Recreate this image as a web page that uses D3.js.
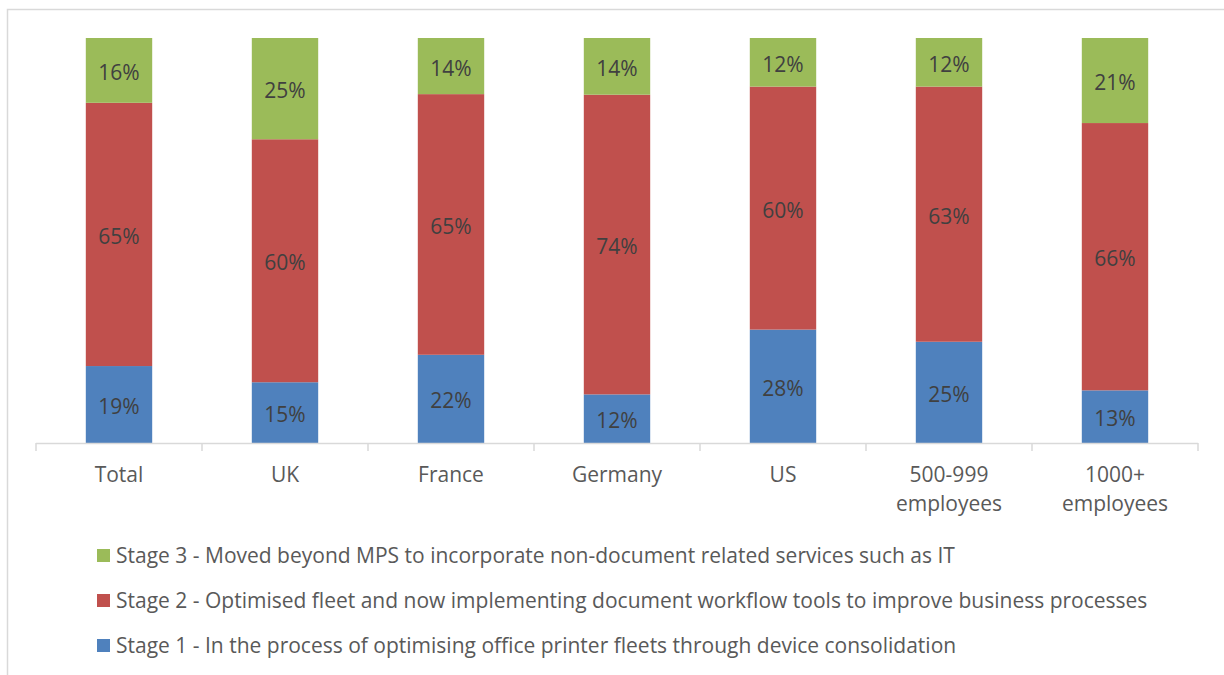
<!DOCTYPE html>
<html>
<head>
<meta charset="utf-8">
<script src="https://cdn.jsdelivr.net/npm/d3@7"></script>
<style>
  body { margin: 0; background: #fff; }
  svg { display: block; font-family: "Open Sans", Lato, sans-serif; }
</style>
</head>
<body>
<svg id="chart" width="1224" height="675"></svg>
<script>
// categories and series (percent of respondents)
var categories = ["Total", "UK", "France", "Germany", "US", "500-999\nemployees", "1000+\nemployees"];
var stage1 = [19, 15, 22, 12, 28, 25, 13];
var stage2 = [65, 60, 65, 74, 60, 63, 66];
var stage3 = [16, 25, 14, 14, 12, 12, 21];
var seriesNames = [
  "Stage 1 - In the process of optimising office printer fleets through device consolidation",
  "Stage 2 - Optimised fleet and now implementing document workflow tools to improve business processes",
  "Stage 3 - Moved beyond MPS to incorporate non-document related services such as IT"
];
var colors = ["#4F81BD", "#C0504D", "#9BBB59"];
var fontSize = "21px";

var W = 1224, H = 675;
var margin = {top: 38, right: 26, bottom: 232, left: 36};
var width = W - margin.left - margin.right,
    height = H - margin.top - margin.bottom;

var svg = d3.select("#chart");

// outer chart frame
svg.append("rect")
  .attr("x", 7.5).attr("y", 9.5)
  .attr("width", W).attr("height", H)
  .attr("fill", "none")
  .attr("stroke", "#d9d9d9")
  .attr("stroke-width", 1.5);

var chart = svg.append("g")
  .attr("transform", "translate(" + margin.left + "," + margin.top + ")");

var rows = categories.map(function(c, i){
  return {name: c, s1: stage1[i], s2: stage2[i], s3: stage3[i]};
});
var keys = ["s1", "s2", "s3"];
var stacked = d3.stack().keys(keys).offset(d3.stackOffsetExpand)(rows);

var x = d3.scaleBand()
  .domain(categories)
  .range([0, width])
  .paddingInner(0.6)
  .paddingOuter(0.3);
var y = d3.scaleLinear().domain([0, 1]).range([height, 0]);

var layers = chart.selectAll(".layer")
  .data(stacked)
  .enter().append("g")
  .attr("class", "layer")
  .attr("fill", function(d, i){ return colors[i]; });

layers.selectAll("rect")
  .data(function(d){ return d; })
  .enter().append("rect")
  .attr("x", function(d){ return x(d.data.name); })
  .attr("y", function(d){ return y(d[1]); })
  .attr("height", function(d){ return y(d[0]) - y(d[1]); })
  .attr("width", x.bandwidth());

layers.each(function(layer){
  var key = layer.key;
  d3.select(this).selectAll("text")
    .data(layer)
    .enter().append("text")
    .attr("x", function(d){ return x(d.data.name) + x.bandwidth() / 2; })
    .attr("y", function(d){ return (y(d[0]) + y(d[1])) / 2; })
    .attr("dy", "0.45em")
    .attr("text-anchor", "middle")
    .attr("fill", "#404040")
    .style("font-size", fontSize)
    .text(function(d){ return d.data[key] + "%"; });
});

// x axis: baseline with ticks at category boundaries
var axis = chart.append("g")
  .attr("transform", "translate(0," + height + ")");
axis.append("line")
  .attr("x1", 0).attr("x2", width)
  .attr("y1", 0.5).attr("y2", 0.5)
  .attr("stroke", "#d9d9d9").attr("stroke-width", 1.5);
var step = x.step();
axis.selectAll(".tk")
  .data(d3.range(categories.length + 1))
  .enter().append("line")
  .attr("x1", function(i){ return i * step; })
  .attr("x2", function(i){ return i * step; })
  .attr("y1", 0).attr("y2", 8)
  .attr("stroke", "#d9d9d9").attr("stroke-width", 1.5);

var lab = axis.selectAll(".lab")
  .data(categories)
  .enter().append("text")
  .attr("text-anchor", "middle")
  .attr("fill", "#595959")
  .style("font-size", fontSize)
  .attr("transform", function(d){ return "translate(" + (x(d) + x.bandwidth() / 2) + ",39)"; });
lab.selectAll("tspan")
  .data(function(d){ return d.split("\n"); })
  .enter().append("tspan")
  .attr("x", 0)
  .attr("dy", function(d, i){ return i ? 29 : 0; })
  .text(function(d){ return d; });

// legend, stage 3 at top
var legend = svg.append("g").attr("transform", "translate(97,556)");
var order = [2, 1, 0];
var item = legend.selectAll(".item")
  .data(order)
  .enter().append("g")
  .attr("transform", function(d, i){ return "translate(0," + (i * 45) + ")"; });
item.append("rect")
  .attr("x", 0).attr("y", -7)
  .attr("width", 13).attr("height", 13)
  .attr("fill", function(d){ return colors[d]; });
item.append("text")
  .attr("x", 19)
  .attr("dy", "0.35em")
  .attr("fill", "#595959")
  .style("font-size", fontSize)
  .text(function(d){ return seriesNames[d]; });
</script>
</body>
</html>
